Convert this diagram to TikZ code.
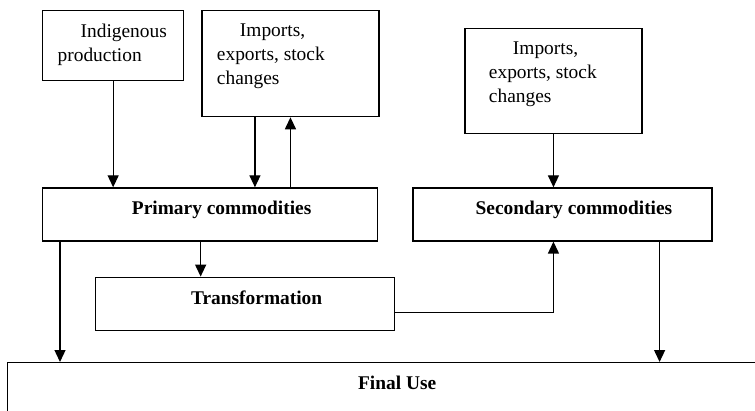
\documentclass[tikz,border=0pt]{standalone}
\usepackage{fontspec}
\setmainfont{Liberation Serif}
\usetikzlibrary{positioning,arrows.meta}
\newcommand{\boxtext}[3]{\parbox[c][#2][t]{#1}{#3}}
\tikzset{
box/.style={draw, line width=0.65pt, anchor=north west, inner xsep=0pt, inner ysep=6.7pt, font=\fontsize{9.7pt}{12pt}\selectfont},
srcbox/.style={box, inner xsep=7.5pt},
flow/.style={-{Triangle[length=6pt,width=5.5pt]}, line width=0.65pt}
}
\begin{document}
\begin{tikzpicture}
\useasboundingbox (0,0) rectangle (377.5pt,-205.5pt);
\clip (0,0) rectangle (377.5pt,-205.5pt);
\node[srcbox](ind) at (21pt,-5pt) {\boxtext{55.5pt}{21.6pt}{\raggedright\hspace*{11.5pt}Indigenous\\production}};
\node[srcbox, right=8.5pt of ind.north east, anchor=north west](imp) {\boxtext{73.5pt}{39.6pt}{\raggedright\hspace*{11.5pt}Imports,\\exports, stock\\changes}};
\node[box, below=53pt of ind.south west, anchor=north west](prim) {\boxtext{167.5pt}{13.1pt}{\centering\bfseries\hspace*{11.5pt}Primary commodities}};
\node[box, right=17pt of prim.north east, anchor=north west](sec) {\boxtext{149.5pt}{13.1pt}{\centering\bfseries\hspace*{11.5pt}Secondary commodities}};
\node[srcbox, inner xsep=12pt, above right=26.5pt and 26pt of sec.north west](imp2) {\boxtext{64.5pt}{39.1pt}{\raggedright\hspace*{12pt}Imports,\\exports, stock\\changes}};
\node[box, below right=17.5pt and 26.5pt of prim.south west](trans) {\boxtext{149.5pt}{13.1pt}{\centering\bfseries\hspace*{11.5pt}Transformation}};
\node[box](fin) at (3.5pt,-181pt) {\boxtext{389.5pt}{40pt}{\centering\bfseries Final Use}};
\draw[flow] (ind) -- (ind |- prim.north);
\draw[flow] ([xshift=-17.75pt]imp.south) -- ([xshift=-17.75pt]imp.south |- prim.north);
\draw[flow] (prim.north -| imp) -- (imp);
\draw[flow] (imp2) -- (imp2 |- sec.north);
\draw[flow] ([xshift=-4.75pt]prim.south) -- ([xshift=-4.75pt]prim.south |- trans.north);
\draw[flow] ([yshift=-4.25pt]trans.east) -| (imp2 |- sec.south);
\draw[flow] ([xshift=9pt]prim.south west) -- ([xshift=9pt]prim.south west |- fin.north);
\draw[flow] ([xshift=-26.5pt]sec.south east) -- ([xshift=-26.5pt]sec.south east |- fin.north);
\end{tikzpicture}
\end{document}
